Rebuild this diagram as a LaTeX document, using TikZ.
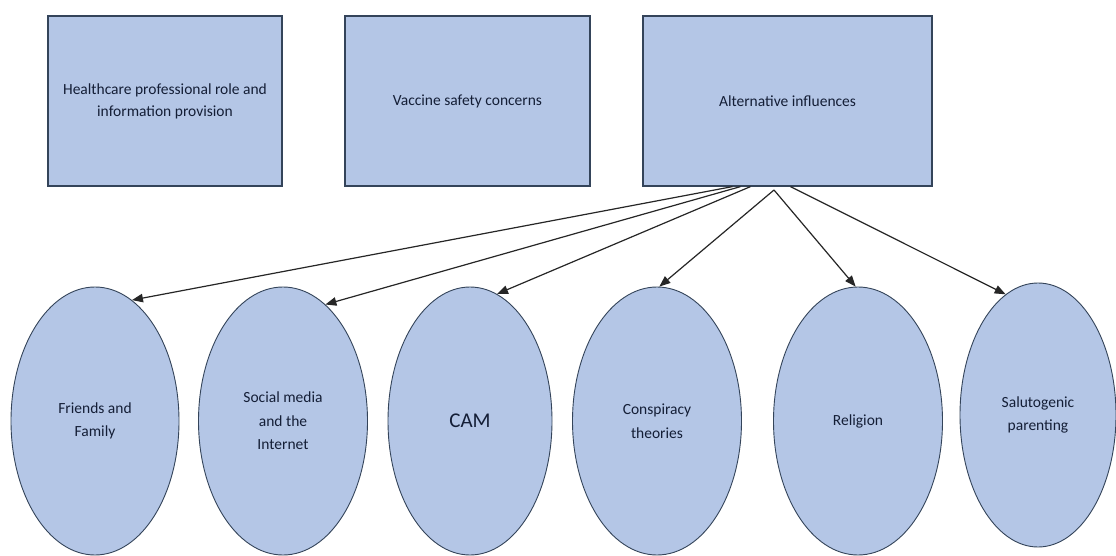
\documentclass[tikz,border=0pt]{standalone}
\usepackage{fontspec}
\setmainfont{Carlito}
\usetikzlibrary{shapes.geometric,arrows.meta}
\definecolor{fillblue}{HTML}{B4C6E6}
\definecolor{edgecol}{HTML}{34445A}
\definecolor{txtcol}{HTML}{141E36}
\begin{document}
\begin{tikzpicture}[x=1pt,y=-1pt,
  boxnode/.style={draw=edgecol,line width=1.2pt,fill=fillblue,text=txtcol,align=center,
    font=\fontsize{15.5}{22}\selectfont,inner sep=0pt,minimum height=170pt},
  ovalnode/.style={ellipse,draw=edgecol,line width=0.9pt,fill=fillblue,text=txtcol,align=center,
    font=\fontsize{15.5}{23.5}\selectfont,inner sep=0pt},
  arr/.style={-{Triangle[length=11pt,width=8.5pt]},line width=1.2pt,draw=black!85}]
\useasboundingbox (0,0) rectangle (1116,556);
\fill[white] (0,0) rectangle (1116,556);

\node[boxnode,minimum width=234pt] (b1) at (165,101) {Healthcare professional role and\\information provision};
\node[boxnode,minimum width=245pt] (b2) at (467.5,101) {Vaccine safety concerns};
\node[boxnode,minimum width=289pt] (b3) at (787.5,101) {Alternative influences};

\node[ovalnode,minimum width=168pt,minimum height=268pt] (e1) at (95,421) {Friends and\\Family};
\node[ovalnode,minimum width=169pt,minimum height=268pt] (e2) at (283,421) {Social media\\and the\\Internet};
\node[ovalnode,minimum width=164pt,minimum height=268pt,font=\fontsize{21}{25}\selectfont] (e3) at (470,421) {CAM};
\node[ovalnode,minimum width=169pt,minimum height=268pt] (e4) at (657,421) {Conspiracy\\theories};
\node[ovalnode,minimum width=169pt,minimum height=268pt] (e5) at (858,421) {Religion};
\node[ovalnode,minimum width=156pt,minimum height=264pt] (e6) at (1038,415) {Salutogenic\\parenting};

\coordinate (apex) at (774,190);
\draw[arr] ([xshift=-55pt]b3.south) -- (e1.73);
\draw[arr] ([xshift=-47pt]b3.south) -- (e2.70);
\draw[arr] ([xshift=-37pt]b3.south) -- (e3.78);
\draw[arr] (apex) -- (e4.89);
\draw[arr] (apex) -- (e5.91);
\draw[arr] ([xshift=3pt]b3.south) -- (e6.105);
\end{tikzpicture}
\end{document}
